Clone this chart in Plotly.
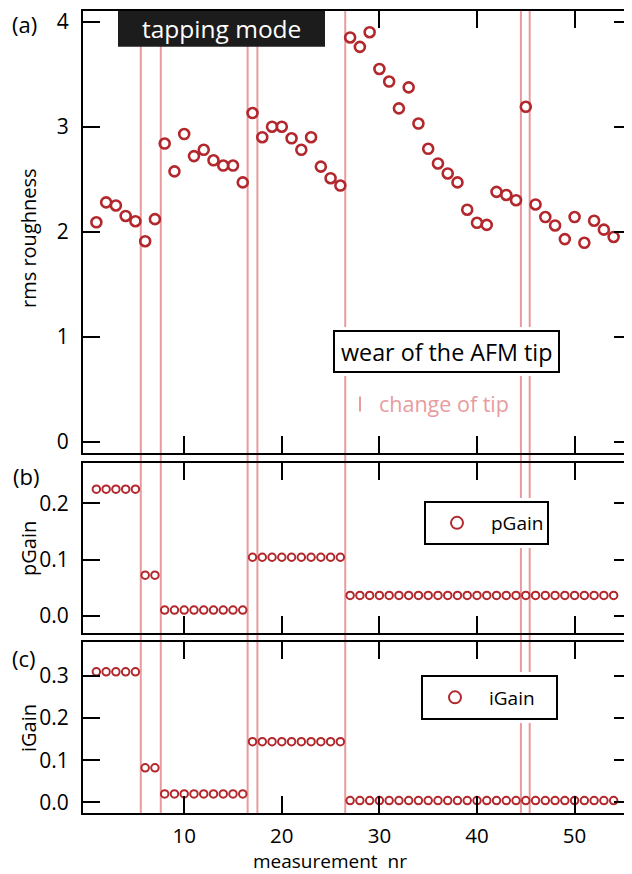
import plotly.graph_objects as go

# ---------------- data ----------------
measurement = [1, 2, 3, 4, 5, 6, 7, 8, 9, 10, 11, 12, 13, 14, 15, 16, 17, 18,
               19, 20, 21, 22, 23, 24, 25, 26, 27, 28, 29, 30, 31, 32, 33, 34, 35, 36,
               37, 38, 39, 40, 41, 42, 43, 44, 45, 46, 47, 48, 49, 50, 51, 52, 53, 54]
rms_roughness = [2.09, 2.28, 2.25, 2.15, 2.10, 1.91, 2.12,
                 2.84, 2.575, 2.93, 2.72, 2.78, 2.68, 2.63, 2.63, 2.47,
                 3.13, 2.90, 3.00, 3.00, 2.89, 2.78, 2.90, 2.62, 2.51, 2.44,
                 3.85, 3.76, 3.90, 3.55, 3.43, 3.175, 3.375, 3.03, 2.79, 2.65,
                 2.555, 2.47, 2.21, 2.085, 2.065, 2.38, 2.35, 2.30,
                 3.19,
                 2.26, 2.14, 2.06, 1.93, 2.14, 1.895, 2.105, 2.02, 1.95]
p_gain = [0.225, 0.225, 0.225, 0.225, 0.225,
          0.072, 0.072,
          0.010, 0.010, 0.010, 0.010, 0.010, 0.010, 0.010, 0.010, 0.010,
          0.104, 0.104, 0.104, 0.104, 0.104, 0.104, 0.104, 0.104, 0.104, 0.104,
          0.036, 0.036, 0.036, 0.036, 0.036, 0.036, 0.036, 0.036, 0.036, 0.036,
          0.036, 0.036, 0.036, 0.036, 0.036, 0.036, 0.036, 0.036, 0.036, 0.036,
          0.036, 0.036, 0.036, 0.036, 0.036, 0.036, 0.036, 0.036]
i_gain = [0.310, 0.310, 0.310, 0.310, 0.310,
          0.082, 0.082,
          0.020, 0.020, 0.020, 0.020, 0.020, 0.020, 0.020, 0.020, 0.020,
          0.144, 0.144, 0.144, 0.144, 0.144, 0.144, 0.144, 0.144, 0.144, 0.144,
          0.004, 0.004, 0.004, 0.004, 0.004, 0.004, 0.004, 0.004, 0.004, 0.004,
          0.004, 0.004, 0.004, 0.004, 0.004, 0.004, 0.004, 0.004, 0.004, 0.004,
          0.004, 0.004, 0.004, 0.004, 0.004, 0.004, 0.004, 0.004]
tip_changes = [5.55, 7.6, 16.5, 17.5, 26.5, 44.5, 45.4]
x_ticks = [10, 20, 30, 40, 50]
rms_ticks = [0, 1, 2, 3, 4]
p_ticks = [0.0, 0.1, 0.2]
i_ticks = [0.0, 0.1, 0.2, 0.3]

# ---------------- style ----------------
RED = "#b3282d"
PINK = "#e89b9d"
FONT = "Open Sans"
OFF = 8                      # default page margin of the html body
W, H = 632 - OFF, 874 - OFF  # figure size so that it fills the window
ML, MR, MT, MB = 83 - OFF, 1, 11 - OFF, 61
PW = W - ML - MR
PH = H - MT - MB


def px(x):
    """window pixel x -> paper fraction"""
    return (x - OFF - ML) / PW


def py(y):
    """window pixel y -> paper fraction"""
    return (H - MB - (y - OFF)) / PH


fig = go.Figure()
fig.add_trace(go.Scatter(x=measurement, y=rms_roughness, mode="markers",
                         marker=dict(symbol="circle-open", size=10, color=RED,
                                     line=dict(width=2.6, color=RED)),
                         xaxis="x", yaxis="y", showlegend=False))
fig.add_trace(go.Scatter(x=measurement, y=p_gain, mode="markers", name="pGain",
                         marker=dict(symbol="circle-open", size=7.5, color=RED,
                                     line=dict(width=2, color=RED)),
                         xaxis="x2", yaxis="y2", legend="legend2"))
fig.add_trace(go.Scatter(x=measurement, y=i_gain, mode="markers", name="iGain",
                         marker=dict(symbol="circle-open", size=7.5, color=RED,
                                     line=dict(width=2, color=RED)),
                         xaxis="x3", yaxis="y3", legend="legend3"))

shapes = []
for t in tip_changes:
    shapes.append(dict(type="line", xref="x", yref="paper", x0=t, x1=t, y0=0, y1=1,
                       line=dict(color=PINK, width=2), layer="below"))


def boxed(x0, y0, x1, y1, gap=4):
    shapes.append(dict(type="rect", xref="paper", yref="paper",
                       x0=px(x0 - gap), x1=px(x1 + gap), y0=py(y1 + gap), y1=py(y0 - gap),
                       fillcolor="white", line=dict(width=0), layer="above"))
    shapes.append(dict(type="rect", xref="paper", yref="paper",
                       x0=px(x0), x1=px(x1), y0=py(y1), y1=py(y0),
                       fillcolor="white", line=dict(color="black", width=2), layer="above"))


# tapping mode box (black)
shapes.append(dict(type="rect", xref="paper", yref="paper",
                   x0=px(118), x1=px(325), y0=py(46.7), y1=1,
                   fillcolor="#1c1c1c", line=dict(width=0), layer="above"))
boxed(334, 331, 559, 372)
boxed(425, 502, 548, 544)
boxed(422, 676, 557, 719)
# change-of-tip legend glyph
shapes.append(dict(type="line", xref="paper", yref="paper",
                   x0=px(360), x1=px(360), y0=py(411.5), y1=py(396.5),
                   line=dict(color=PINK, width=2), layer="above"))

annotations = [
    dict(text="tapping mode", x=px(221.5), y=py(28.5), font=dict(color="white", size=24.5)),
    dict(text="wear of the AFM tip", x=px(446.5), y=py(351.5), font=dict(color="black", size=23.3)),
    dict(text="change of tip", x=px(377), y=py(403), xanchor="left",
         font=dict(color=PINK, size=21.5)),
    dict(text="(a)", x=px(24), y=py(24), font=dict(size=22)),
    dict(text="(b)", x=px(26), y=py(476), font=dict(size=22)),
    dict(text="(c)", x=px(24), y=py(657.5), font=dict(size=22)),
    dict(text="rms roughness", x=px(29), y=py(238), textangle=-90, font=dict(size=20)),
    dict(text="pGain", x=px(28), y=py(549), textangle=-90, font=dict(size=20)),
    dict(text="iGain", x=px(28), y=py(728), textangle=-90, font=dict(size=20)),
    dict(text="measurement  nr", x=px(330), y=py(861), font=dict(size=19)),
]
for a in annotations:
    a.setdefault("xref", "paper")
    a.setdefault("yref", "paper")
    a.setdefault("showarrow", False)
    a.setdefault("xanchor", "center")
    a.setdefault("yanchor", "middle")

common_axis = dict(showline=True, linecolor="black", linewidth=2, mirror="ticks",
                   ticks="inside", ticklen=17, tickwidth=2, tickcolor="black",
                   showgrid=False, zeroline=False, automargin=False,
                   ticklabeloverflow="allow",
                   tickfont=dict(size=21, color="black"))
x_range = [-0.37, 55.78]

fig.update_layout(
    width=W, height=H,
    margin=dict(l=ML, r=MR, t=MT, b=MB, autoexpand=False),
    paper_bgcolor="white", plot_bgcolor="white",
    font=dict(family=FONT, color="black"),
    xaxis=dict(common_axis, domain=[0, 1], anchor="y", range=x_range, tickvals=x_ticks,
               showticklabels=False),
    xaxis2=dict(common_axis, domain=[0, 1], anchor="y2", range=x_range, tickvals=x_ticks,
                showticklabels=False, matches="x"),
    xaxis3=dict(common_axis, domain=[0, 1], anchor="y3", range=x_range, tickvals=x_ticks,
                matches="x", ticklabelstandoff=3, tickfont=dict(size=20.5, color="black")),
    yaxis=dict(common_axis, domain=[py(453.3), 1], anchor="x", range=[-0.11, 4.102],
               tickvals=rms_ticks, ticklabelstandoff=8),
    yaxis2=dict(common_axis, domain=[py(633.3), py(462.7)], anchor="x2",
                range=[-0.0313, 0.2722], tickvals=p_ticks, tickformat=".1f",
                ticklabelstandoff=8),
    yaxis3=dict(common_axis, domain=[0, py(642.3)], anchor="x3",
                range=[-0.0254, 0.380], tickvals=i_ticks, tickformat=".1f",
                ticklabelstandoff=8),
    legend2=dict(x=px(423), y=py(523), xanchor="left", yanchor="middle",
                 bgcolor="rgba(0,0,0,0)", borderwidth=0, itemsizing="constant",
                 itemwidth=58, font=dict(size=19, color="black")),
    legend3=dict(x=px(421), y=py(697.5), xanchor="left", yanchor="middle",
                 bgcolor="rgba(0,0,0,0)", borderwidth=0, itemsizing="constant",
                 itemwidth=58, font=dict(size=19, color="black")),
    shapes=shapes,
    annotations=annotations,
)

fig.write_html("out.html")
